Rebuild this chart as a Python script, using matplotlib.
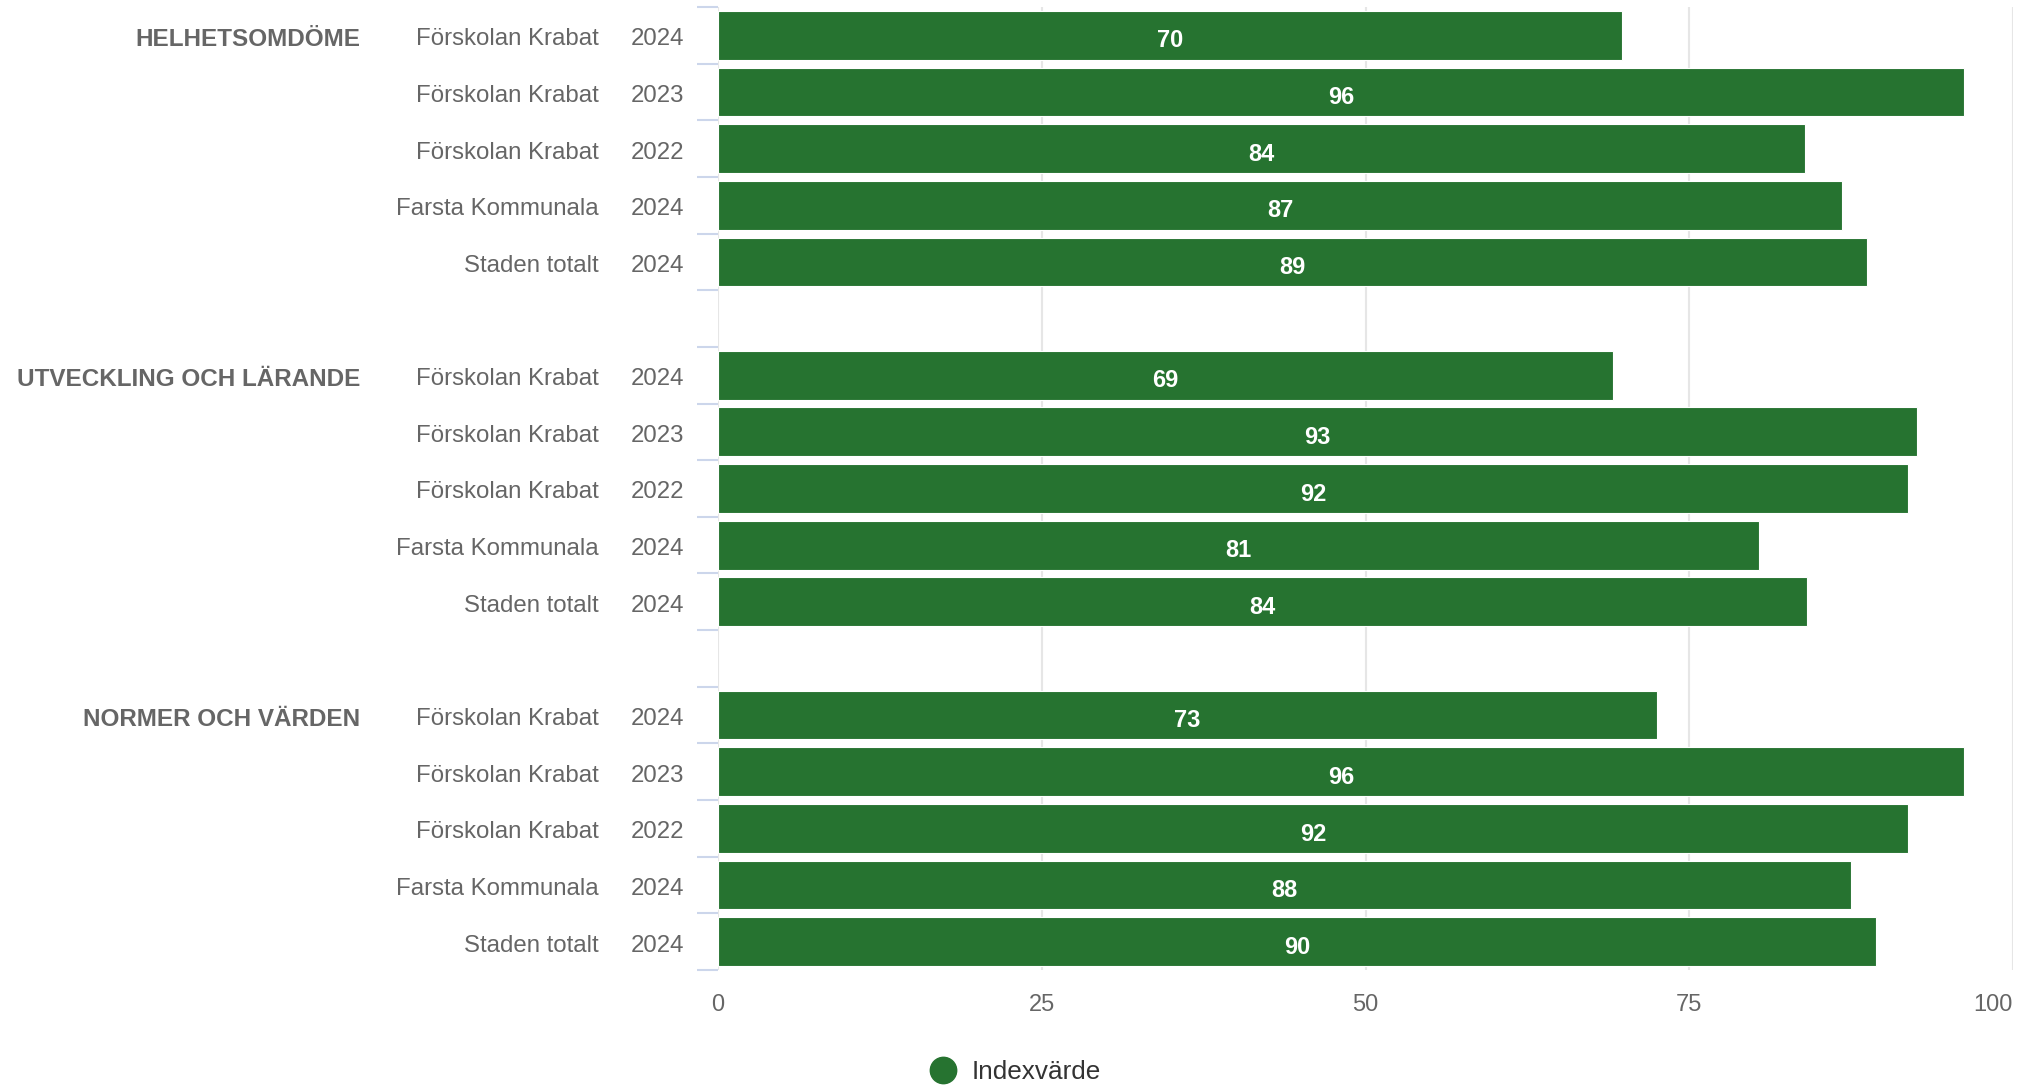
import matplotlib
matplotlib.use("Agg")
import matplotlib.pyplot as plt
import matplotlib.transforms as mtransforms
from matplotlib.lines import Line2D

plt.rcParams['font.family'] = ['Liberation Sans', 'DejaVu Sans']

# ---- data ----
groups = ["HELHETSOMDÖME", "UTVECKLING OCH LÄRANDE", "NORMER OCH VÄRDEN"]
units = ["Förskolan Krabat", "Förskolan Krabat", "Förskolan Krabat", "Farsta Kommunala", "Staden totalt"]
years = ["2024", "2023", "2022", "2024", "2024"]
# bar lengths
helhet = [69.8, 96.2, 83.9, 86.8, 88.7]
utveckling = [69.1, 92.6, 91.9, 80.4, 84.1]
normer = [72.5, 96.2, 91.9, 87.5, 89.4]
# data labels as printed on the bars
helhet_labels = ["70", "96", "84", "87", "89"]
utveckling_labels = ["69", "93", "92", "81", "84"]
normer_labels = ["73", "96", "92", "88", "90"]
series_by_group = [helhet, utveckling, normer]
labels_by_group = [helhet_labels, utveckling_labels, normer_labels]
x_ticks = [0, 25, 50, 75, 100]
legend_label = "Indexvärde"

bar_color = "#267330"
label_gray = "#666666"

fig = plt.figure(figsize=(20.21, 10.86), dpi=100)
W, H = 2021, 1086
ax = fig.add_axes([718 / W, 1 - 970 / H, (2013 - 718) / W, (970 - 7) / H])

n_per = len(units)
row = 0
label_tr = mtransforms.blended_transform_factory(fig.transFigure, ax.transData)
for gi, (g, vals, labs) in enumerate(zip(groups, series_by_group, labels_by_group)):
    ys = list(range(row, row + n_per))
    ax.barh(ys, vals, height=0.86, color=bar_color, edgecolor="#ffffff",
            linewidth=0.8, zorder=3, label=legend_label if gi == 0 else None)
    for y, v, lab, u, yr in zip(ys, vals, labs, units, years):
        ax.text(v / 2, y + 0.1, lab, ha="center", va="center", color="white",
                fontsize=17, fontweight="bold", zorder=4)
        ax.text(684 / W, y + 0.07, yr, transform=label_tr, ha="right", va="center",
                color=label_gray, fontsize=17.3)
        ax.text(599 / W, y + 0.07, u, transform=label_tr, ha="right", va="center",
                color=label_gray, fontsize=17.3)
    ax.text(360 / W, ys[0] + 0.07, g, transform=label_tr, ha="right", va="center",
            color=label_gray, fontsize=17.5, fontweight="bold")
    row += n_per + 1

total_rows = row - 1
ax.set_ylim(total_rows - 0.5, -0.5)
ax.set_xlim(0, 100)

ax.set_yticks([i - 0.5 for i in range(total_rows + 1)])
ax.set_yticklabels([])
ax.tick_params(axis="y", length=15, width=1.5, color="#ccd6eb", direction="out")

ax.set_xticks(x_ticks)
ax.set_xticklabels([str(t) for t in x_ticks])
ax.tick_params(axis="x", length=0, pad=17, labelsize=17, labelcolor=label_gray)
ax.get_xticklabels()[-1].set_horizontalalignment("right")

ax.grid(axis="x", color="#e6e6e6", linewidth=1.5, zorder=0)
ax.grid(axis="y", visible=False)
for s in ax.spines.values():
    s.set_visible(False)

handle = Line2D([], [], marker="o", linestyle="none", markersize=19,
                markerfacecolor=bar_color, markeredgecolor=bar_color)
fig.legend([handle], [legend_label], loc="center left",
           bbox_to_anchor=(917 / W, 1 - 1072 / H), frameon=False,
           fontsize=18.8, labelcolor="#333333", handletextpad=0.6,
           handlelength=1.0, borderpad=0)

fig.savefig("out.png", dpi=100)
